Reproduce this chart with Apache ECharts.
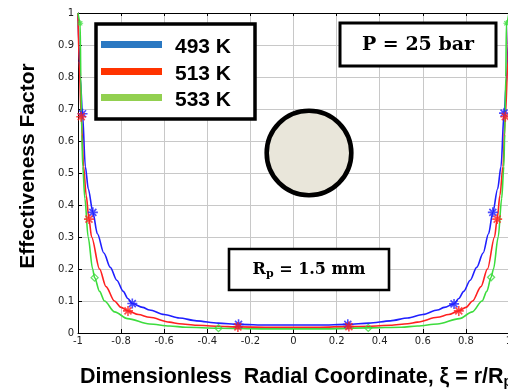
<!DOCTYPE html>
<html>
<head>
<meta charset="utf-8">
<script src="https://cdn.jsdelivr.net/npm/echarts@6/dist/echarts.min.js"></script>
<style>
  html, body { margin: 0; padding: 0; background: #fff; }
  #chart { width: 508px; height: 390px; }
</style>
</head>
<body>
<div id="chart"></div>
<script>
// Effectiveness factor profiles across the pellet, P = 25 bar, Rp = 1.5 mm
const xiTicks = [-1, -0.8, -0.6, -0.4, -0.2, 0, 0.2, 0.4, 0.6, 0.8, 1];
const etaTicks = [0, 0.1, 0.2, 0.3, 0.4, 0.5, 0.6, 0.7, 0.8, 0.9, 1];
const seriesNames = ['493 K', '513 K', '533 K'];

const xi493 = [-1, -0.996, -0.99, -0.979, -0.966, -0.952, -0.931, -0.91, -0.88, -0.85, -0.82, -0.79, -0.769, -0.748, -0.70, -0.668, -0.60, -0.53, -0.45, -0.35, -0.255, -0.12, 0,
               0.12, 0.252, 0.35, 0.45, 0.53, 0.60, 0.668, 0.70, 0.745, 0.767, 0.79, 0.82, 0.85, 0.88, 0.905, 0.925, 0.947, 0.963, 0.977, 0.99, 0.996, 1];
const eta493 = [1, 0.9, 0.8, 0.685, 0.52, 0.45, 0.377, 0.31, 0.25, 0.205, 0.165, 0.13, 0.108, 0.092, 0.080, 0.072, 0.058, 0.047, 0.038, 0.031, 0.027, 0.025, 0.025,
                0.025, 0.027, 0.031, 0.038, 0.047, 0.058, 0.072, 0.080, 0.091, 0.108, 0.13, 0.165, 0.205, 0.25, 0.31, 0.377, 0.45, 0.52, 0.687, 0.8, 0.9, 1];

const xi513 = [-1, -0.995, -0.985, -0.974, -0.962, -0.949, -0.937, -0.90, -0.87, -0.831, -0.80, -0.768, -0.72, -0.668, -0.575, -0.53, -0.45, -0.35, -0.258, -0.12, 0,
               0.12, 0.257, 0.35, 0.45, 0.53, 0.575, 0.668, 0.72, 0.767, 0.80, 0.831, 0.87, 0.90, 0.933, 0.945, 0.958, 0.972, 0.983, 0.995, 1];
const eta513 = [1, 0.85, 0.676, 0.52, 0.43, 0.356, 0.30, 0.20, 0.145, 0.10, 0.08, 0.069, 0.058, 0.049, 0.034, 0.029, 0.024, 0.021, 0.019, 0.018, 0.018,
                0.018, 0.02, 0.021, 0.024, 0.029, 0.034, 0.049, 0.058, 0.069, 0.08, 0.10, 0.145, 0.20, 0.30, 0.356, 0.43, 0.52, 0.676, 0.85, 1];

const xi533 = [-1, -0.99, -0.987, -0.982, -0.978, -0.968, -0.953, -0.932, -0.923, -0.90, -0.877, -0.83, -0.77, -0.668, -0.575, -0.50, -0.348, -0.15, 0,
               0.15, 0.347, 0.50, 0.575, 0.668, 0.77, 0.83, 0.875, 0.897, 0.917, 0.928, 0.95, 0.966, 0.976, 0.98, 0.985, 0.988, 1];
const eta533 = [1, 0.968, 0.8, 0.62, 0.52, 0.42, 0.3, 0.2, 0.173, 0.13, 0.10, 0.066, 0.045, 0.028, 0.022, 0.018, 0.015, 0.013, 0.013,
                0.013, 0.016, 0.018, 0.022, 0.028, 0.045, 0.066, 0.10, 0.13, 0.174, 0.2, 0.3, 0.42, 0.52, 0.62, 0.8, 0.968, 1];

// Marked collocation points on each profile
const mark493 = [[-0.979, 0.685], [-0.931, 0.377], [-0.748, 0.092], [-0.255, 0.027], [0.252, 0.027], [0.745, 0.091], [0.925, 0.377], [0.977, 0.687]];
const mark513 = [[-0.985, 0.676], [-0.949, 0.356], [-0.768, 0.069], [-0.258, 0.019], [0.257, 0.02], [0.767, 0.069], [0.945, 0.356], [0.983, 0.676]];
const mark533Top = [[-0.99, 0.968], [0.988, 0.968]];
const mark533 = [[-0.923, 0.173], [-0.348, 0.015], [0.347, 0.016], [0.917, 0.174]];

const lineColors = ['#1f1fff', '#ff2020', '#3ddc3d'];
const legendColors = ['#2a78c2', '#ff3300', '#92d050'];

const asterisk = 'path://M0,-10L0,10M-10,0L10,0M-7,-7L7,7M-7,7L7,-7';

function pairs(xs, ys) { return xs.map((x, i) => [x, ys[i]]); }

const chart = echarts.init(document.getElementById('chart'), null, { renderer: 'canvas' });

function curve(name, xs, ys, color) {
  return {
    name: name, type: 'line', data: pairs(xs, ys),
    showSymbol: false, smooth: 0.3, smoothMonotone: 'x',
    lineStyle: { color: color, width: 1.6 }, z: 3, animation: false
  };
}
function marks(data, color, symbol, size, width) {
  return {
    type: 'scatter', data: data, symbol: symbol, symbolSize: size, symbolKeepAspect: true,
    itemStyle: { color: 'rgba(0,0,0,0)', borderColor: color, borderWidth: width },
    z: 4, animation: false, silent: true
  };
}

// Legend box contents
const legendGraphics = [{
  type: 'rect', shape: { x: 96, y: 24, width: 159, height: 95 },
  style: { fill: '#fff', stroke: '#000', lineWidth: 3.5 }, z: 10
}];
seriesNames.forEach((n, i) => {
  const cy = [44.5, 71.5, 97.5][i];
  legendGraphics.push({
    type: 'line', shape: { x1: 101, y1: cy, x2: 162, y2: cy },
    style: { stroke: legendColors[i], lineWidth: 7 }, z: 11
  });
  legendGraphics.push({
    type: 'text', x: 175, y: cy + 2.5,
    style: { text: n, font: 'bold 21px "Liberation Sans", Arial, sans-serif', fill: '#000', textAlign: 'left', textVerticalAlign: 'middle' },
    z: 11
  });
});

const option = {
  backgroundColor: '#fff',
  animation: false,
  grid: { left: 78, top: 13, width: 431, height: 320, containLabel: false, outerBoundsMode: 'none' },
  xAxis: [{
    type: 'value', min: -1, max: 1, interval: 0.2,
    axisLine: { onZero: false, lineStyle: { color: '#000', width: 1 } },
    axisTick: { inside: true, length: 4, lineStyle: { color: '#000' } },
    axisLabel: { color: '#222', fontSize: 10, margin: 3, fontFamily: '"DejaVu Sans", sans-serif',
                 formatter: v => xiTicks.includes(Math.round(v * 10) / 10) ? String(Math.round(v * 10) / 10) : '' },
    splitLine: { show: true, lineStyle: { color: '#c8c8c8', width: 1 } }
  }, {
    type: 'value', position: 'top', min: -1, max: 1, interval: 0.2,
    axisLine: { show: true, onZero: false, lineStyle: { color: '#000', width: 1 } },
    axisTick: { show: true, inside: true, length: 3, lineStyle: { color: '#000' } },
    axisLabel: { show: false }, splitLine: { show: false }
  }],
  yAxis: [{
    type: 'value', min: 0, max: 1, interval: 0.1,
    axisLine: { show: true, onZero: false, lineStyle: { color: '#000', width: 1 } },
    axisTick: { show: true, inside: true, length: 4, lineStyle: { color: '#000' } },
    axisLabel: { color: '#222', fontSize: 10, margin: 4, fontFamily: '"DejaVu Sans", sans-serif',
                 formatter: v => { const r = Math.round(v * 10) / 10; return etaTicks.includes(r) ? String(r) : ''; } },
    splitLine: { show: true, lineStyle: { color: '#c8c8c8', width: 1 } }
  }],
  series: [
    curve(seriesNames[0], xi493, eta493, lineColors[0]),
    curve(seriesNames[1], xi513, eta513, lineColors[1]),
    curve(seriesNames[2], xi533, eta533, lineColors[2]),
    marks(mark493, lineColors[0], asterisk, 10, 1.6),
    marks(mark513, lineColors[1], asterisk, 10, 1.6),
    marks(mark533Top, lineColors[2], asterisk, 6, 1.2),
    marks(mark533, lineColors[2], 'diamond', 7, 1.3)
  ],
  graphic: legendGraphics.concat([
    { // pressure label
      type: 'rect', shape: { x: 340, y: 23, width: 156, height: 43 },
      style: { fill: '#fff', stroke: '#000', lineWidth: 3 }, z: 10
    },
    {
      type: 'text', x: 418, y: 45,
      style: { text: 'P = 25 bar', font: 'bold 19px "DejaVu Serif", serif', fill: '#000', textAlign: 'center', textVerticalAlign: 'middle' },
      z: 11
    },
    { // pellet sketch
      type: 'circle', shape: { cx: 309, cy: 153, r: 42.3 },
      style: { fill: '#e9e6da', stroke: '#000', lineWidth: 4.6 }, z: 10
    },
    { // particle radius label
      type: 'rect', shape: { x: 229, y: 249, width: 160, height: 41 },
      style: { fill: '#fff', stroke: '#000', lineWidth: 2.6 }, z: 10
    },
    {
      type: 'text', x: 309, y: 270,
      style: {
        text: '{b|R}{s|p}{b| = 1.5 mm}',
        textAlign: 'center', textVerticalAlign: 'middle',
        rich: {
          b: { font: 'bold 16px "DejaVu Serif", serif', fill: '#000' },
          s: { font: 'bold 11px "DejaVu Serif", serif', fill: '#000', padding: [8, 0, 0, 0] }
        }
      },
      z: 11
    },
    { // y-axis title
      type: 'text', x: 28, y: 166, rotation: Math.PI / 2,
      style: { text: 'Effectiveness Factor', font: 'bold 21px "Liberation Sans", Arial, sans-serif', fill: '#000', textAlign: 'center', textVerticalAlign: 'middle' },
      z: 11
    },
    { // x-axis title
      type: 'text', x: 80, y: 377,
      style: {
        text: '{b|Dimensionless  Radial Coordinate, ξ = r/R}{s|p}',
        textAlign: 'left', textVerticalAlign: 'middle',
        rich: {
          b: { font: 'bold 21.5px "Liberation Sans", Arial, sans-serif', fill: '#000' },
          s: { font: 'bold 14px "Liberation Sans", Arial, sans-serif', fill: '#000', padding: [10, 0, 0, 0] }
        }
      },
      z: 11
    }
  ])
};

chart.setOption(option);
</script>
</body>
</html>
